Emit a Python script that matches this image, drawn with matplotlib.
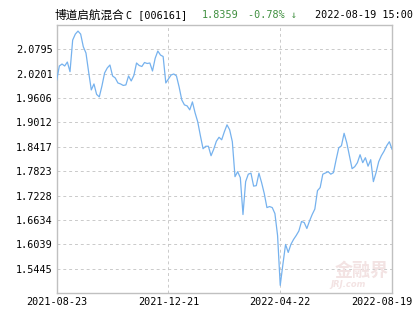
import matplotlib
matplotlib.use('Agg')
import matplotlib.pyplot as plt
from matplotlib.transforms import ScaledTranslation

# fund NAV, evenly spaced trading days
nav = [2.0048, 2.0389, 2.0437, 2.0389, 2.0486, 2.0250, 2.1021, 2.1167, 2.1240, 2.1167,
       2.0858, 2.0705, 2.0243, 1.9805, 1.9951, 1.9696, 1.9635, 1.9902, 2.0219, 2.0340,
       2.0413, 2.0146, 2.0097, 1.9975, 1.9951, 1.9915, 1.9927, 2.0146, 2.0024, 2.0158,
       2.0462, 2.0401, 2.0377, 2.0474, 2.0450, 2.0462, 2.0267, 2.0576, 2.0754, 2.0656,
       2.0620, 1.9975, 2.0073, 2.0170, 2.0194, 2.0146, 1.9878, 1.9562, 1.9440, 1.9416,
       1.9319, 1.9513, 1.9246, 1.9027, 1.8686, 1.8370, 1.8431, 1.8431, 1.8200, 1.8358,
       1.8553, 1.8650, 1.8589, 1.8784, 1.8954, 1.8832, 1.8541, 1.7689, 1.7811, 1.7665,
       1.6765, 1.7568, 1.7750, 1.7774, 1.7458, 1.7470, 1.7774, 1.7543, 1.7276, 1.6935,
       1.6960, 1.6935, 1.6789, 1.6254, 1.5038, 1.5549, 1.6036, 1.5841, 1.6036, 1.6157,
       1.6254, 1.6364, 1.6595, 1.6571, 1.6425, 1.6607, 1.6765, 1.6899, 1.7349, 1.7422,
       1.7750, 1.7779, 1.7811, 1.7750, 1.7787, 1.8103, 1.8395, 1.8443, 1.8747, 1.8516,
       1.8200, 1.7884, 1.7933, 1.8030, 1.8224, 1.8030, 1.8151, 1.7945, 1.8103, 1.7568,
       1.7787, 1.8054, 1.8200, 1.8309, 1.8443, 1.8541, 1.8359]

date_labels = ['2021-08-23', '2021-12-21', '2022-04-22', '2022-08-19']
yticks = [1.5445, 1.6039, 1.6634, 1.7228, 1.7823, 1.8417, 1.9012, 1.9606, 2.0201, 2.0795]

fund_name = '博道启航混合'
fund_code = 'C [006161]'
last_nav = '1.8359'
change = '-0.78% ↓'
stamp = '2022-08-19 15:00'

W, H = 415, 330
mono = ['DejaVu Sans Mono', 'Noto Sans CJK SC']
grey = '#cacaca'
green = '#3f8f3f'

fig = plt.figure(figsize=(W / 100, H / 100), dpi=100)
ax = fig.add_axes([56.7 / W, 1 - 293 / H, (392 - 56.7) / W, (293 - 25) / H])

x = list(range(len(nav)))
n = len(nav) - 1
ax.plot(x, nav, color='#76b2ee', linewidth=0.9, zorder=3)

ax.set_xlim(0, n)
ax.set_ylim(1.4851, 2.1389)

ax.set_yticks(yticks)
ax.set_yticklabels(['%.4f' % v for v in yticks], fontfamily=mono, fontsize=7.3)
xt = [0, n / 3, 2 * n / 3, n]
ax.set_xticks(xt)
ax.set_xticklabels(date_labels, fontfamily=mono, fontsize=7.3)
ax.tick_params(length=0, pad=3)

for v in yticks:
    ax.axhline(v, color=grey, linewidth=0.7, linestyle=(0, (3, 3)), zorder=1)
for v in xt[1:3]:
    ax.axvline(v, color=grey, linewidth=0.7, linestyle=(0, (3, 3)), zorder=1)

for s in ax.spines.values():
    s.set_color('#c0c0c0')
    s.set_linewidth(1.0)

# last date label is pushed back inside the picture
lbl = ax.get_xticklabels()[-1]
lbl.set_transform(lbl.get_transform() + ScaledTranslation(-0.10, 0, fig.dpi_scale_trans))

# watermark
ax.text(0.91, 0.085, '金融界', transform=ax.transAxes, fontsize=13, color='#f3e3e3',
        fontfamily='Noto Sans CJK SC', fontweight='bold', ha='center', va='center', zorder=2)
ax.text(0.87, 0.03, 'JRJ.com', transform=ax.transAxes, fontsize=6, color='#f3e3e3',
        fontstyle='italic', fontweight='bold', ha='center', va='center', zorder=2)

ty = 1 - 15 / H
fig.text(55 / W, ty, fund_name, fontfamily='Noto Sans CJK SC', fontsize=8.4, va='center')
fig.text(126 / W, ty, fund_code, fontfamily=mono, fontsize=7.3, va='center')
fig.text(202 / W, ty, last_nav, fontfamily=mono, fontsize=7.3, va='center', color=green)
fig.text(248 / W, ty, change, fontfamily=mono, fontsize=7.3, va='center', color=green)
fig.text(315 / W, ty, stamp, fontfamily=mono, fontsize=7.3, va='center')

fig.savefig('out.png', dpi=100)
